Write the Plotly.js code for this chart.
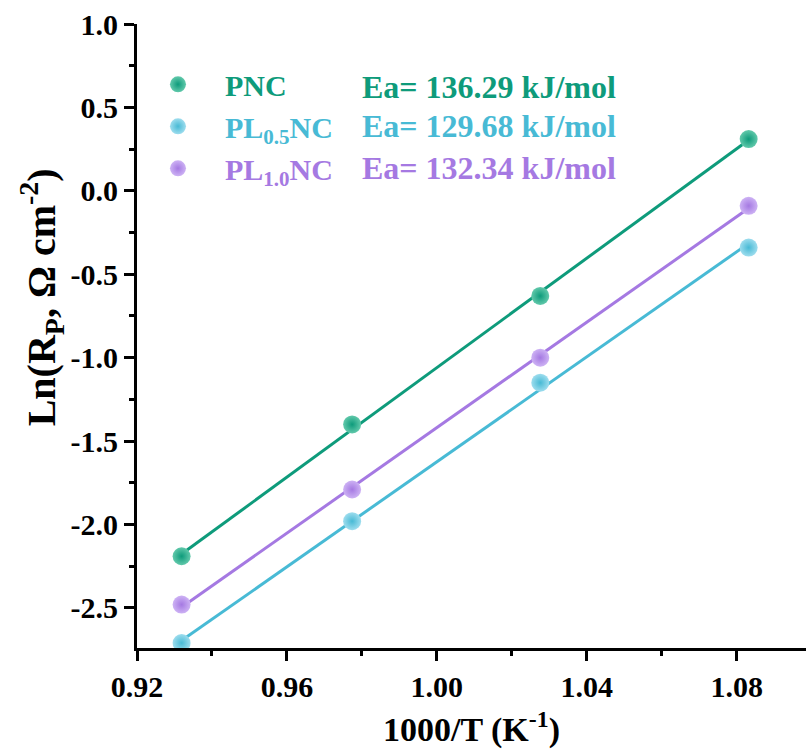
<!DOCTYPE html>
<html>
<head>
<meta charset="utf-8">
<script src="https://cdn.plot.ly/plotly-3.0.1.min.js"></script>
<style>html,body{margin:0;padding:0;background:#fff}#chart{width:806px;height:753px}</style>
</head>
<body>
<div id="chart"></div>
<script>
// 1000/T (K^-1)
const invT = [0.9319, 0.9774, 1.0276, 1.0832];
// Ln(Rp) values per sample
const pnc   = [-2.19, -1.40, -0.63, 0.31];
const pl05  = [-2.71, -1.98, -1.15, -0.34];
const pl10  = [-2.48, -1.79, -1.00, -0.09];
const names = ['PNC', 'PL<sub>0.5</sub>NC', 'PL<sub>1.0</sub>NC'];
const eaLabels = ['Ea= 136.29 kJ/mol', 'Ea= 129.68 kJ/mol', 'Ea= 132.34 kJ/mol'];
const colors = ['#0E9B7B', '#48BAD5', '#A579E2'];
const lightColors = ['#62C9AB', '#9EDDEE', '#CDB2F4'];
const xTickVals = [0.92, 0.96, 1.00, 1.04, 1.08];
const xTickText = ['0.92', '0.96', '1.00', '1.04', '1.08'];
const yTickVals = [-2.5, -2.0, -1.5, -1.0, -0.5, 0.0, 0.5, 1.0];
const yTickText = ['-2.5', '-2.0', '-1.5', '-1.0', '-0.5', '0.0', '0.5', '1.0'];

const series = [pnc, pl05, pl10];

function fit(x, y) {
  const n = x.length;
  const mx = x.reduce((a, b) => a + b, 0) / n;
  const my = y.reduce((a, b) => a + b, 0) / n;
  let sxy = 0, sxx = 0;
  for (let i = 0; i < n; i++) { sxy += (x[i] - mx) * (y[i] - my); sxx += (x[i] - mx) ** 2; }
  const b = sxy / sxx, a = my - b * mx;
  const xs = [Math.min(...x), Math.max(...x)];
  return {x: xs, y: xs.map(v => a + b * v)};
}

const traces = [];
series.forEach((s, i) => {
  const f = fit(invT, s);
  traces.push({x: f.x, y: f.y, mode: 'lines', line: {color: colors[i], width: 3}, showlegend: false, hoverinfo: 'skip'});
});
series.forEach((s, i) => {
  traces.push({
    x: invT, y: s, mode: 'markers',
    name: '<span style="color:' + colors[i] + '">' + names[i] + '</span>',
    marker: {size: 18, color: lightColors[i], gradient: {type: 'radial', color: colors[i]}, line: {width: 0}},
    legendgroup: 'g' + i
  });
});

const font = 'Liberation Serif, Times New Roman, serif';
const annotations = eaLabels.map((t, i) => ({
  xref: 'paper', yref: 'paper', x: 0.3333, y: [0.899, 0.836, 0.769][i],
  xanchor: 'left', yanchor: 'middle', showarrow: false,
  text: '<b>' + t + '</b>', font: {family: font, size: 32, color: colors[i]}
}));
annotations.push({
  xref: 'paper', yref: 'paper', x: -0.143, y: 0.5625, xanchor: 'center', yanchor: 'middle',
  textangle: -90, showarrow: false,
  text: '<b>Ln(R<sub>P</sub>, Ω cm<sup>-2</sup>)</b>', font: {family: font, size: 40, color: '#000'}
});

const layout = {
  width: 806, height: 753,
  margin: {l: 137, r: 0, t: 24, b: 105},
  paper_bgcolor: '#fff', plot_bgcolor: '#fff',
  showlegend: true,
  legend: {x: -0.009, y: 0.945, xanchor: 'left', yanchor: 'top', bgcolor: 'rgba(0,0,0,0)',
           font: {family: font, size: 30, color: '#000', weight: 'bold'}, itemwidth: 84, tracegroupgap: 0},
  font: {family: font, color: '#000'},
  xaxis: {
    range: [0.92, 1.0985], tickvals: xTickVals, ticktext: xTickText,
    showline: true, linewidth: 3, linecolor: '#000', ticks: 'outside', ticklen: 10, tickwidth: 3, tickcolor: '#000',
    minor: {ticks: 'outside', ticklen: 5, tickwidth: 3, tickcolor: '#000', dtick: 0.02, tick0: 0.92},
    showgrid: false, zeroline: false,
    tickfont: {family: font, size: 30, color: '#000', weight: 'bold'},
    title: {text: '<b>1000/T (K<sup>-1</sup>)</b>', font: {family: font, size: 34, color: '#000'}, standoff: 16}
  },
  yaxis: {
    range: [-2.74, 1.0], tickvals: yTickVals, ticktext: yTickText,
    showline: true, linewidth: 3, linecolor: '#000', ticks: 'outside', ticklen: 10, tickwidth: 3, tickcolor: '#000',
    minor: {ticks: 'outside', ticklen: 5, tickwidth: 3, tickcolor: '#000', dtick: 0.25, tick0: 0},
    showgrid: false, zeroline: false,
    tickfont: {family: font, size: 30, color: '#000', weight: 'bold'}
  },
  annotations: annotations
};

Plotly.newPlot('chart', traces, layout, {displayModeBar: false, staticPlot: true});
</script>
</body>
</html>
